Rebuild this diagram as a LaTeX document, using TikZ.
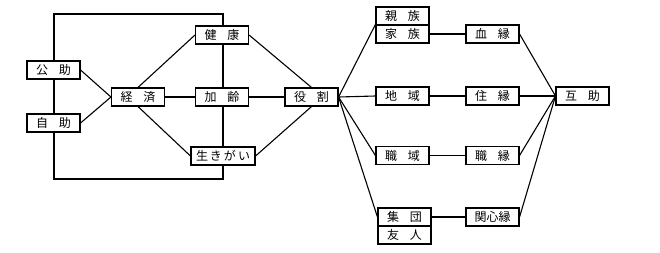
\documentclass[tikz,border=0pt]{standalone}
\usepackage{fontspec}
\newfontfamily\jpfont{Noto Sans CJK JP}
\usetikzlibrary{positioning}

\newcommand{\gap}{\hspace{0.9em}}

\begin{document}
\begin{tikzpicture}[x=1pt, y=-1pt, line width=1.1pt,
    box/.style={draw, fill=white, font=\jpfont\fontsize{12}{14}\selectfont,
                inner sep=0pt, minimum width=53pt, minimum height=18pt}]
  \useasboundingbox (0,0) rectangle (660,252);

  % frame behind the left half
  \coordinate (ftl) at (54,14);
  \coordinate (fbr) at (223,179);
  \draw (ftl) rectangle (fbr);

  % left part
  \node[box] (kojo)     at (53.5,70)  {公\gap 助};
  \node[box] (jijo)     at (53.5,123) {自\gap 助};
  \node[box] (keizai)   at (138,97)   {経\gap 済};
  \node[box] (kenko)    at (222,35)   {健\gap 康};
  \node[box] (karei)    at (222,97)   {加\gap 齢};
  \node[box, minimum width=64pt] (ikigai) at (223,156) {生\,き\,が\,い};
  \node[box] (yakuwari) at (311.5,97) {役\gap 割};

  % right part
  \node[box] (shinzoku) at (402.5,16)  {親\gap 族};
  \node[box] (kazoku)   at (402.5,34)  {家\gap 族};
  \node[box] (chiiki)   at (402.5,96)  {地\gap 域};
  \node[box] (shokuiki) at (402.5,155.5) {職\gap 域};
  \node[box] (shudan)   at (404.5,217) {集\gap 団};
  \node[box] (yujin)    at (404.5,235) {友\gap 人};
  \node[box] (ketsuen)  at (492.5,34)  {血\gap 縁};
  \node[box] (juen)     at (492.5,96)  {住\gap 縁};
  \node[box] (shokuen)  at (492.5,155.5) {職\gap 縁};
  \node[box] (kanshin)  at (492.5,217) {関心縁};
  \node[box] (gojo)     at (582.5,96)  {互\gap 助};

  \draw (kojo.east) -- (keizai.west);
  \draw (jijo.east) -- (keizai.west);
  \draw (keizai.north) -- (kenko.west);
  \draw (keizai) -- (karei);
  \draw (keizai.south) -- (ikigai.west);
  \draw (karei) -- (yakuwari);
  \draw (kenko.east) -- (yakuwari.north);
  \draw (ikigai.east) -- (yakuwari.south);

  \draw (yakuwari.east) -- (kazoku.north west);
  \draw (yakuwari.east) -- (chiiki.west);
  \draw (yakuwari.east) -- (shokuiki.west);
  \draw (yakuwari.east) -- (shudan.west);

  \draw (kazoku) -- (ketsuen);
  \draw (chiiki) -- (juen);
  \draw (shokuiki) -- (shokuen);
  \draw (shudan) -- (kanshin);

  \draw (ketsuen.east) -- (gojo.west);
  \draw (juen) -- (gojo);
  \draw (shokuen.east) -- (gojo.west);
  \draw (kanshin.east) -- (gojo.west);
\end{tikzpicture}
\end{document}
